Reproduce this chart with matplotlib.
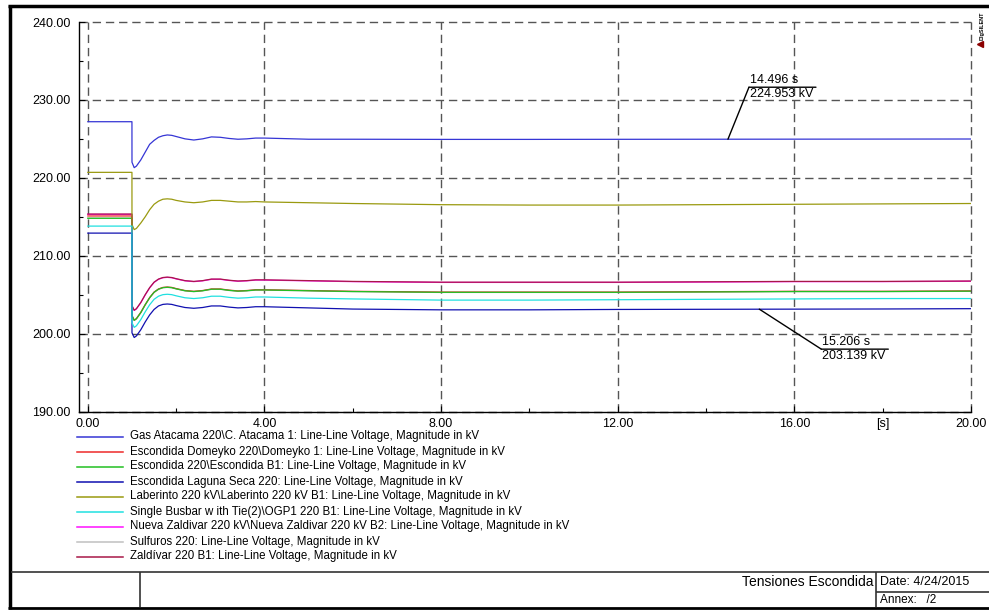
import matplotlib.pyplot as plt
from matplotlib.lines import Line2D
from matplotlib.ticker import FixedLocator, FixedFormatter, FormatStrFormatter
from matplotlib.transforms import offset_copy

plt.rcParams['font.family'] = ['Liberation Sans', 'DejaVu Sans']

# sample times [s]
time_s = [0.0, 0.999, 1.0, 1.05, 1.1, 1.2, 1.3, 1.4, 1.5, 1.6, 1.7, 1.8, 1.9, 2.0,
          2.2, 2.4, 2.6, 2.8, 3.0, 3.2, 3.4, 3.6, 3.8, 4.0, 5.0, 6.0, 8.0,
          10.0, 12.0, 14.0, 16.0, 18.0, 20.0]

# voltages [kV]
gas_atacama = [227.2, 227.2, 222.0, 221.3, 221.5, 222.3, 223.3, 224.3, 224.8, 225.2,
               225.4, 225.5, 225.45, 225.3, 225.0, 224.85, 225.0, 225.25, 225.2, 225.05,
               224.95, 225.0, 225.1, 225.1, 224.95, 224.95, 224.93, 224.93, 224.94, 224.95,
               224.96, 224.97, 224.98]
domeyko = [215.1, 215.1, 202.33, 201.73, 201.93, 202.73, 203.73, 204.63, 205.33, 205.73,
           205.93, 205.98, 205.93, 205.78, 205.53, 205.43, 205.53, 205.73, 205.73, 205.58,
           205.48, 205.53, 205.63, 205.63, 205.53, 205.43, 205.33, 205.33, 205.33, 205.38,
           205.43, 205.43, 205.48]
escondida_b1 = [214.8, 214.8, 202.3, 201.7, 201.9, 202.7, 203.7, 204.6, 205.3, 205.7,
                205.9, 205.95, 205.9, 205.75, 205.5, 205.4, 205.5, 205.7, 205.7, 205.55,
                205.45, 205.5, 205.6, 205.6, 205.5, 205.4, 205.3, 205.3, 205.3, 205.35,
                205.4, 205.4, 205.45]
laguna_seca = [212.9, 212.9, 200.1, 199.5, 199.7, 200.5, 201.5, 202.4, 203.1, 203.55,
               203.75, 203.8, 203.75, 203.6, 203.35, 203.25, 203.35, 203.55, 203.55, 203.4,
               203.3, 203.35, 203.45, 203.45, 203.3, 203.15, 203.05, 203.05, 203.1, 203.12,
               203.14, 203.16, 203.2]
laberinto = [220.7, 220.7, 214.0, 213.35, 213.5, 214.2, 215.0, 215.9, 216.6, 217.0,
             217.25, 217.3, 217.25, 217.1, 216.9, 216.8, 216.9, 217.1, 217.1, 217.0,
             216.9, 216.9, 216.95, 216.9, 216.8, 216.7, 216.55, 216.5, 216.5, 216.55,
             216.6, 216.65, 216.7]
ogp1 = [213.8, 213.8, 201.4, 200.8, 201.0, 201.8, 202.8, 203.7, 204.4, 204.8,
        205.0, 205.05, 205.0, 204.85, 204.6, 204.5, 204.6, 204.8, 204.8, 204.65,
        204.55, 204.6, 204.7, 204.7, 204.55, 204.45, 204.3, 204.3, 204.35, 204.4,
        204.45, 204.5, 204.5]
nueva_zaldivar = [215.3, 215.3, 203.57, 202.97, 203.17, 203.97, 204.97, 205.87, 206.57, 206.97,
                  207.17, 207.22, 207.17, 207.02, 206.77, 206.67, 206.77, 206.97, 206.97, 206.82,
                  206.72, 206.77, 206.87, 206.87, 206.77, 206.67, 206.57, 206.57, 206.57, 206.62,
                  206.67, 206.67, 206.72]
sulfuros = [214.85, 214.85, 202.28, 201.68, 201.88, 202.68, 203.68, 204.58, 205.28, 205.68,
            205.88, 205.93, 205.88, 205.73, 205.48, 205.38, 205.48, 205.68, 205.68, 205.53,
            205.43, 205.48, 205.58, 205.58, 205.48, 205.38, 205.28, 205.28, 205.28, 205.33,
            205.38, 205.38, 205.43]
zaldivar = [215.35, 215.35, 203.6, 203.0, 203.2, 204.0, 205.0, 205.9, 206.6, 207.0,
            207.2, 207.25, 207.2, 207.05, 206.8, 206.7, 206.8, 207.0, 207.0, 206.85,
            206.75, 206.8, 206.9, 206.9, 206.8, 206.7, 206.6, 206.6, 206.6, 206.65,
            206.7, 206.7, 206.75]

labels = [
    "Gas Atacama 220\\C. Atacama 1: Line-Line Voltage, Magnitude in kV",
    "Escondida Domeyko 220\\Domeyko 1: Line-Line Voltage, Magnitude in kV",
    "Escondida 220\\Escondida B1: Line-Line Voltage, Magnitude in kV",
    "Escondida Laguna Seca 220: Line-Line Voltage, Magnitude in kV",
    "Laberinto 220 kV\\Laberinto 220 kV B1: Line-Line Voltage, Magnitude in kV",
    "Single Busbar w ith Tie(2)\\OGP1 220 B1: Line-Line Voltage, Magnitude in kV",
    "Nueva Zaldivar 220 kV\\Nueva Zaldivar 220 kV B2: Line-Line Voltage, Magnitude in kV",
    "Sulfuros 220: Line-Line Voltage, Magnitude in kV",
    "Zaldívar 220 B1: Line-Line Voltage, Magnitude in kV",
]
series = [gas_atacama, domeyko, escondida_b1, laguna_seca, laberinto,
          ogp1, nueva_zaldivar, sulfuros, zaldivar]
colors = ["#3535d5", "#ee2a2a", "#22c022", "#1010b0", "#9a9a10",
          "#20e0e0", "#ff10ff", "#c0c0c0", "#a81848"]
zorders = [3, 2.2, 2.6, 3, 3, 3, 2.4, 2.1, 2.8]

# cursor markers
marker_t = [14.496, 15.206]
marker_v = [224.953, 203.139]
marker_off = [(21, 52), (62, -40)]

W, H = 989, 610
fig = plt.figure(figsize=(W / 100, H / 100), dpi=100)
ax = fig.add_axes([79 / W, (H - 411.5) / H, (971 - 79) / W, (411.5 - 22) / H])

for vals, col, z in zip(series, colors, zorders):
    ax.plot(time_s, vals, color=col, lw=0.9, zorder=z)

ax.set_xlim(-0.2, 20)
ax.set_ylim(190, 240)
ax.xaxis.set_major_locator(FixedLocator([0, 4, 8, 12, 16, 20]))
ax.xaxis.set_minor_locator(FixedLocator([2, 6, 10, 14, 18]))
ax.xaxis.set_minor_formatter(FixedFormatter(["", "", "", "", "[s]"]))
ax.yaxis.set_major_locator(FixedLocator([190, 200, 210, 220, 230, 240]))
ax.yaxis.set_minor_locator(FixedLocator([195, 205, 215, 225, 235]))
ax.xaxis.set_major_formatter(FormatStrFormatter("%.2f"))
ax.yaxis.set_major_formatter(FormatStrFormatter("%.2f"))
ax.tick_params(which="both", direction="in", labelsize=9, width=0.8)
ax.tick_params(which="major", length=4)
ax.tick_params(which="minor", length=3)
ax.tick_params(axis="x", which="both", pad=5)
ax.tick_params(axis="y", which="both", pad=6)

ax.grid(which="major", color="#555555", linestyle=(0, (6, 3.5)), linewidth=1.0)
for gl in ax.get_xgridlines() + ax.get_ygridlines():
    gl.set_clip_on(False)
ax.spines["top"].set_visible(False)
ax.spines["right"].set_visible(False)
ax.spines["left"].set_linewidth(1.0)
ax.spines["bottom"].set_linewidth(1.0)

# cursor annotations
for t, v, (dx, dy) in zip(marker_t, marker_v, marker_off):
    line_kw = dict(arrowstyle="-", color="black", lw=1.0, shrinkA=0, shrinkB=0)
    ax.annotate("", xy=(t, v), xytext=(dx, dy), textcoords="offset pixels",
                arrowprops=line_kw, zorder=5)
    ax.annotate("", xy=(t, v),
                xycoords=offset_copy(ax.transData, fig=fig, x=dx + 67, y=dy, units="dots"),
                xytext=(-67, 0), textcoords="offset pixels", arrowprops=line_kw, zorder=5)
    ax.annotate(f"{t:.3f} s", xy=(t, v), xytext=(dx + 1, dy + 1),
                textcoords="offset pixels", ha="left", va="bottom", fontsize=9)
    ax.annotate(f"{v:.3f} kV", xy=(t, v), xytext=(dx + 1, dy - 1),
                textcoords="offset pixels", ha="left", va="top", fontsize=9)

# legend below the plot
for i, (lab, col) in enumerate(zip(labels, colors)):
    y = 1 - (436.5 + 15 * i) / H
    fig.add_artist(Line2D([77 / W, 123 / W], [y, y], color=col, lw=1.1))
    fig.text(130 / W, y, lab, fontsize=8.3, ha="left", va="center")


def fline(x0, y0, x1, y1, lw=1.2, color="#333333"):
    fig.add_artist(Line2D([x0 / W, x1 / W], [1 - y0 / H, 1 - y1 / H],
                          color=color, lw=lw, solid_capstyle="butt"))


# page frame and title block
fline(8, 6, W, 6, lw=2.5, color="black")
fline(10, 5, 10, 609, lw=2.5, color="black")
fline(8, 607.5, W, 607.5, lw=2.0, color="black")
fline(11, 572, W, 572)
fline(140, 572, 140, 607)
fline(876, 572, 876, 607)
fline(876, 592, W, 592)

fig.text(873 / W, 1 - 582 / H, "Tensiones Escondida", fontsize=10, ha="right", va="center")
fig.text(880 / W, 1 - 582 / H, "Date: 4/24/2015", fontsize=9, ha="left", va="center")
fig.text(880 / W, 1 - 600 / H, "Annex:   /2", fontsize=8.5, ha="left", va="center")

fig.text(982 / W, 1 - 26 / H, "DIgSILENT", fontsize=4, fontweight="bold",
         rotation=90, ha="center", va="center")
fig.add_artist(Line2D([980 / W], [1 - 44 / H], marker="<", color="#8b0000",
                      markersize=4, linestyle="none"))

fig.savefig("out.png", dpi=100)
